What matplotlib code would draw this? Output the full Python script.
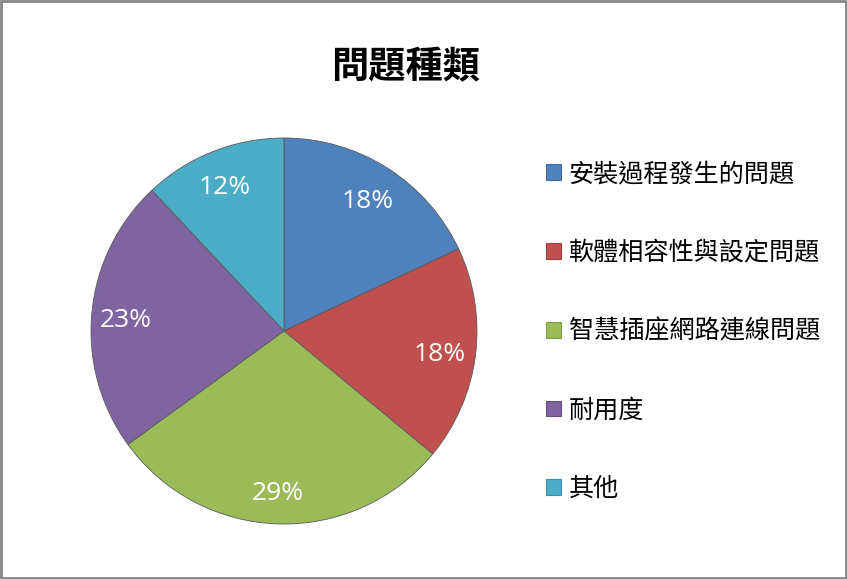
import matplotlib
matplotlib.use("Agg")
import matplotlib.pyplot as plt
import matplotlib.transforms as mtransforms
from matplotlib.patches import Patch, Rectangle

plt.rcParams['font.family'] = ['Noto Sans CJK TC', 'DejaVu Sans']

title = "問題種類"
categories = ["安裝過程發生的問題", "軟體相容性與設定問題", "智慧插座網路連線問題", "耐用度", "其他"]
values = [18, 18, 29, 23, 12]
colors = ["#4F81BD", "#C0504D", "#9BBB59", "#8064A2", "#4BACC6"]
edge_colors = ["#3f6a9c", "#9e3f3c", "#7f9a48", "#674f86", "#3a8ea5"]

W, H = 847, 579
fig = plt.figure(figsize=(W / 100, H / 100), dpi=100)
fig.patch.set_facecolor("white")

cx, cy, r = 284, 331, 193
ax = fig.add_axes([(cx - r) / W, (H - cy - r) / H, 2 * r / W, 2 * r / H])
wedges, texts, autotexts = ax.pie(
    values, colors=colors, startangle=90, counterclock=False,
    autopct=lambda p: f"{p:.0f}%", pctdistance=0.82, radius=1,
    wedgeprops=dict(edgecolor="#5a5a5a", linewidth=0.6),
    textprops=dict(color="white", fontsize=19, family=['Open Sans', 'DejaVu Sans']))
shift = mtransforms.ScaledTranslation(-1 / 100, -4 / 100, fig.dpi_scale_trans)
for t in autotexts:
    t.set_transform(t.get_transform() + shift)
ax.set_xlim(-1, 1)
ax.set_ylim(-1, 1)
ax.set_aspect("equal")
ax.axis("off")

fig.text(406 / W, 1 - 68 / H, title, ha="center", va="center", fontsize=26.8, fontweight="bold")

handles = [Patch(facecolor=c, edgecolor=e, linewidth=0.8) for c, e in zip(colors, edge_colors)]
leg = fig.legend(handles, categories, loc="upper left", bbox_to_anchor=(546 / W, 1 - 161 / H),
                 frameon=False, fontsize=18.1, labelspacing=2.1, handlelength=0.6, handleheight=0.6,
                 handletextpad=0.3, borderpad=0, borderaxespad=0)

fig.add_artist(Rectangle((0.001, 0.001), 0.998, 0.997, transform=fig.transFigure,
                         fill=False, edgecolor="#868686", linewidth=2))

fig.savefig("out.png", dpi=100)
